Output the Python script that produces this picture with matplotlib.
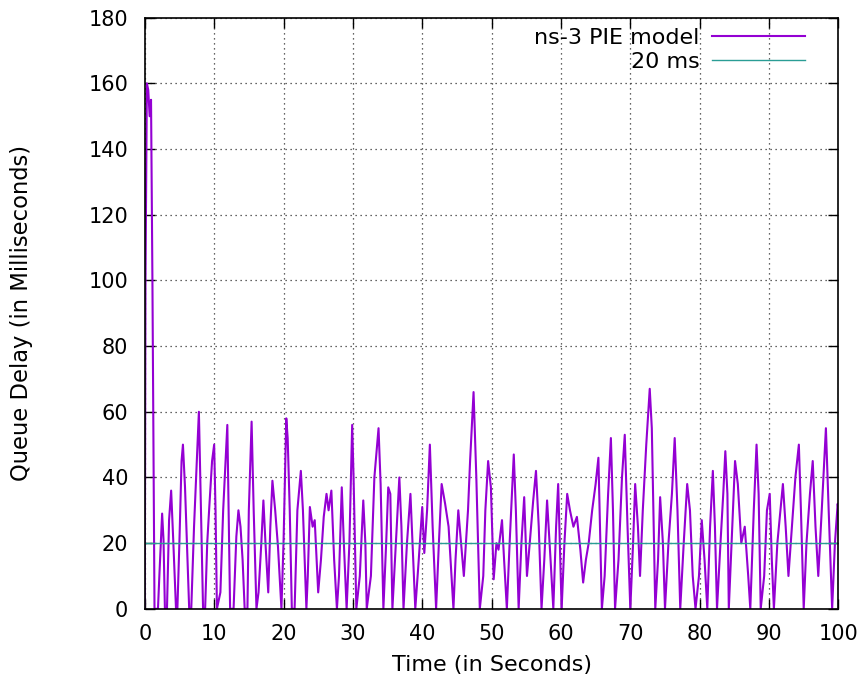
import numpy as np
import matplotlib.pyplot as plt

# kljuchevye tochki, snjatye s kartinki (vremja v sekundah, zaderzhka v ms)
time_s = [0, 0.1, 0.3, 0.5, 0.7, 0.9, 1.1, 1.4, 1.9, 2.1, 2.5, 2.7, 2.9, 3.2, 3.5, 3.8, 4.1, 4.5,
          4.7, 5.0, 5.3, 5.5, 5.8, 6.4, 6.7, 7.1, 7.4, 7.8, 8.0, 8.4, 8.7, 9.0, 9.3, 9.7, 10.0,
          10.2, 10.4, 10.9, 11.3, 11.9, 12.3, 12.8, 13.2, 13.5, 13.8, 14.1, 14.4, 14.8, 15.0,
          15.4, 15.7, 16.1, 16.4, 16.8, 17.1, 17.4, 17.8, 18.1, 18.4, 18.8, 19.2, 19.7, 20.0,
          20.4, 20.6, 20.9, 21.2, 21.6, 22.0, 22.5, 22.8, 23.3, 23.5, 23.8, 24.2, 24.5, 25.0,
          25.4, 25.8, 26.2, 26.5, 26.9, 27.3, 27.7, 28.0, 28.4, 28.7, 29.1, 29.5, 29.9, 30.1,
          30.5, 31.0, 31.5, 31.8, 32.0, 32.6, 33.1, 33.7, 34.0, 34.4, 34.8, 35.1, 35.4, 35.7,
          36.2, 36.7, 37.0, 37.3, 37.8, 38.3, 38.6, 39.0, 39.5, 40.0, 40.3, 40.7, 41.1, 41.5,
          42.0, 42.4, 42.8, 43.3, 43.8, 44.5, 44.8, 45.2, 45.6, 46.0, 46.6, 46.9, 47.4, 47.8,
          48.3, 48.8, 49.1, 49.5, 49.9, 50.3, 50.7, 51.0, 51.5, 51.8, 52.2, 52.6, 53.2, 53.5,
          53.9, 54.3, 54.7, 55.1, 55.5, 56.0, 56.4, 56.8, 57.2, 57.6, 58.0, 58.5, 58.9, 59.3,
          59.6, 60.1, 60.5, 60.9, 61.3, 61.8, 62.3, 62.8, 63.2, 63.6, 64.0, 64.5, 65.0, 65.4,
          65.9, 66.3, 66.8, 67.2, 67.5, 67.8, 68.3, 68.8, 69.2, 69.6, 70.0, 70.4, 70.7, 71.1,
          71.4, 71.8, 72.3, 72.8, 73.1, 73.6, 74.0, 74.3, 74.7, 75.0, 75.5, 76.0, 76.4, 76.8,
          77.2, 77.7, 78.2, 78.6, 79.0, 79.4, 79.9, 80.3, 80.7, 81.1, 81.5, 81.9, 82.2, 82.5,
          83.0, 83.4, 83.7, 84.0, 84.2, 84.6, 85.1, 85.5, 86.0, 86.5, 87.0, 87.3, 87.8, 88.2,
          88.5, 88.8, 89.3, 89.7, 90.1, 90.4, 90.7, 91.2, 92.0, 92.4, 92.8, 93.3, 93.8, 94.3,
          94.6, 95.0, 95.4, 95.9, 96.3, 96.7, 97.1, 97.6, 98.2, 98.6, 99.1, 99.5, 99.9, 100]
delay_ms = [0, 100, 160, 158, 150, 155, 100, 0, 0, 10, 29, 21, 0, 0, 27, 36, 21, 0,
            0, 21, 45, 50, 37, 0, 0, 25, 40, 60, 40, 0, 0, 20, 31, 45, 50,
            30, 0, 5, 30, 56, 0, 0, 22, 30, 25, 15, 0, 0, 30,
            57, 30, 0, 5, 20, 33, 20, 5, 25, 39, 30, 19, 0, 20,
            58, 52, 30, 0, 0, 30, 42, 30, 0, 10, 31, 25, 27, 5,
            15, 28, 35, 30, 36, 15, 0, 10, 37, 20, 0, 20, 56, 40,
            0, 10, 33, 20, 0, 10, 40, 55, 38, 0, 20, 37, 35, 0,
            20, 40, 25, 0, 20, 35, 20, 0, 15, 31, 17, 30, 50, 25,
            0, 20, 38, 32, 25, 0, 15, 30, 20, 10, 30, 45, 66, 40,
            0, 10, 30, 45, 37, 9, 20, 18, 27, 15, 0, 20, 47, 30,
            0, 20, 34, 10, 20, 33, 42, 25, 0, 15, 33, 15, 0, 25,
            38, 0, 20, 35, 30, 25, 28, 18, 8, 15, 20, 30, 38, 46,
            0, 10, 35, 52, 30, 0, 15, 40, 53, 25, 0, 20, 38, 25,
            10, 30, 50, 67, 55, 0, 15, 34, 20, 0, 20, 35, 52, 30,
            0, 20, 38, 30, 10, 0, 10, 27, 15, 0, 25, 42, 25, 0,
            20, 35, 48, 35, 0, 20, 45, 38, 20, 25, 10, 0, 30, 50,
            35, 0, 10, 30, 35, 15, 0, 20, 38, 25, 10, 25, 40, 50,
            30, 0, 20, 35, 45, 25, 10, 30, 55, 30, 0, 20, 32, 30]
target_ms = 20

plt.rcParams['font.family'] = ['DejaVu Sans']

fig = plt.figure(figsize=(8.67, 6.81), dpi=100)
ax = fig.add_axes([0.167, 0.106, 0.8, 0.868])

ax.plot(time_s, delay_ms, color="#9400d3", lw=1.5, label="ns-3 PIE model")
ax.axhline(target_ms, color="#2a9d95", lw=1.0, label="20 ms")

ax.set_xlim(0, 100)
ax.set_ylim(0, 180)
ax.set_xticks(np.arange(0, 101, 10))
ax.set_yticks(np.arange(0, 181, 20))
ax.tick_params(direction="in", top=True, right=True, length=7, width=1, labelsize=15)
ax.tick_params(axis="y", pad=12)
ax.tick_params(axis="x", pad=11)
ax.grid(True, color="#333333", linestyle=(0, (1, 3)), linewidth=0.9)
for s in ax.spines.values():
    s.set_linewidth(1.2)

ax.set_xlabel("Time (in Seconds)", fontsize=16, labelpad=8)
ax.set_ylabel("Queue Delay (in Milliseconds)", fontsize=16.3, labelpad=40)

leg = ax.legend(loc="upper right", bbox_to_anchor=(0.952, 0.983), frameon=False,
                markerfirst=False, fontsize=16, handlelength=4.2, handletextpad=0.55,
                borderaxespad=0, borderpad=0, labelspacing=0.2)

fig.savefig("out.png")
